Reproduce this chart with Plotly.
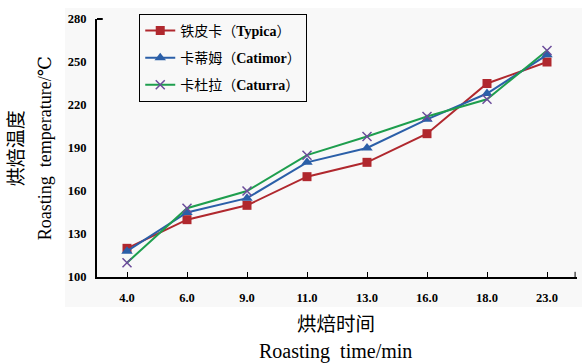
import plotly.graph_objects as go

times = ["4.0", "6.0", "9.0", "11.0", "13.0", "16.0", "18.0", "23.0"]
typica = [120, 140, 150, 170, 180, 200, 235, 250]
catimor = [118, 145, 155, 180, 190, 210, 228, 255]
caturra = [110, 148, 160, 185, 198, 212, 224, 258]
names = ["铁皮卡（<b>Typica</b>）", "卡蒂姆（<b>Catimor</b>）", "卡杜拉（<b>Caturra</b>）"]
yticks = [100, 130, 160, 190, 220, 250, 280]

SERIF = "Liberation Serif, DejaVu Serif, Noto Sans CJK SC, serif"
BG = "#f8f8f8"

fig = go.Figure()
fig.add_trace(go.Scatter(x=times, y=typica, name=names[0], mode="lines+markers",
                         line=dict(color="#b0282e", width=2),
                         marker=dict(symbol="square", size=9, color="#b0282e"),
                         legendgroup="a"))
fig.add_trace(go.Scatter(x=times, y=catimor, name=names[1], mode="lines+markers",
                         line=dict(color="#2b5fa8", width=2),
                         marker=dict(symbol="triangle-up", size=10, color="#2b5fa8"),
                         legendgroup="b"))
fig.add_trace(go.Scatter(x=times, y=caturra, name=names[2], mode="lines+markers",
                         line=dict(color="#1e9e4e", width=2),
                         marker=dict(symbol="x-thin", size=9, color="#6b4c9a",
                                     line=dict(color="#6b4c9a", width=1.5)),
                         legendgroup="c"))

fig.update_layout(
    width=582, height=363,
    margin=dict(l=97, r=5, t=19, b=86),
    paper_bgcolor="white", plot_bgcolor=BG,
    font=dict(family=SERIF, color="black"),
    showlegend=True,
    legend=dict(x=0.088, y=1.02, xanchor="left", yanchor="top",
                bgcolor=BG, bordercolor="black", borderwidth=1,
                font=dict(size=14, family=SERIF), tracegroupgap=6,
                itemwidth=30),
    xaxis=dict(type="category", range=[-0.5, 7.5], showline=True, linecolor="black",
               linewidth=2, ticks="inside", ticklen=5, tickcolor="black", tickwidth=1,
               showgrid=False, zeroline=False, ticklabelstandoff=8,
               tickfont=dict(size=12.5, family=SERIF, weight="bold")),
    yaxis=dict(range=[100, 280], tickvals=yticks, showline=True, linecolor="black",
               linewidth=2, ticks="", showgrid=False, zeroline=False, ticklabelstandoff=6,
               tickfont=dict(size=12.5, family=SERIF, weight="bold")),
    shapes=[
        dict(type="rect", xref="paper", yref="paper", x0=-0.0667, x1=1.02,
             y0=-0.116, y1=1.0426, fillcolor=BG, line=dict(width=0), layer="below"),
        dict(type="line", xref="paper", yref="paper", x0=0, x1=0.012, y0=1, y1=1,
             line=dict(color="black", width=2)),
        dict(type="line", xref="paper", yref="paper", x0=0.996, x1=0.996, y0=0, y1=0.02,
             line=dict(color="black", width=1)),
    ],
    annotations=[
        dict(text="烘焙温度", xref="paper", yref="paper", x=-0.168, y=0.5,
             xanchor="center", yanchor="middle",
             textangle=-90, showarrow=False, font=dict(size=19, family=SERIF)),
        dict(text="Roasting  temperature/℃", xref="paper", yref="paper", x=-0.108, y=0.5,
             xanchor="center", yanchor="middle",
             textangle=-90, showarrow=False, font=dict(size=18, family=SERIF)),
        dict(text="烘焙时间", xref="paper", yref="paper", x=0.497, y=-0.186,
             xanchor="center", yanchor="middle",
             showarrow=False, font=dict(size=19.5, family=SERIF)),
        dict(text="Roasting  time/min", xref="paper", yref="paper", x=0.497, y=-0.29,
             xanchor="center", yanchor="middle",
             showarrow=False, font=dict(size=20, family=SERIF)),
    ],
)

fig.write_html("out.html")
